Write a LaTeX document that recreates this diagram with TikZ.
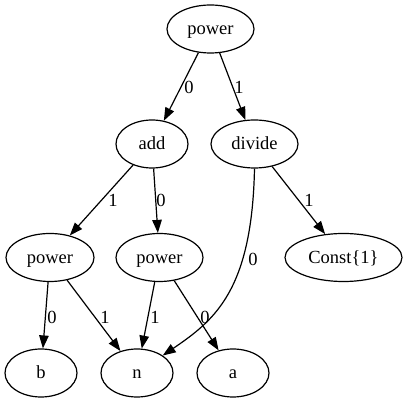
\documentclass[tikz,border=0pt]{standalone}
\usepackage{fontspec}
\setmainfont{Liberation Serif}
\usetikzlibrary{shapes.geometric,arrows.meta}
\begin{document}
\begin{tikzpicture}[x=1pt,y=-1pt,
  nd/.style={ellipse,draw,line width=1.2pt,inner sep=0pt,minimum height=48pt,text height=16pt,text depth=4pt,font=\fontsize{18.5}{20}\selectfont},
  lbl/.style={inner sep=0pt,font=\fontsize{18.5}{20}\selectfont},
  edge/.style={line width=1.2pt,-{Triangle[length=13pt,width=9.5pt]}}]
\useasboundingbox (0,0) rectangle (408,403);
\node[nd,minimum width=87pt] (p0) at (210.5,29) {power};
\node[nd,minimum width=72pt] (add) at (152,144) {add};
\node[nd,minimum width=87pt] (div) at (254.5,144) {divide};
\node[nd,minimum width=88pt] (p1) at (50,257.5) {power};
\node[nd,minimum width=87pt] (p2) at (159.5,257.5) {power};
\node[nd,minimum width=117pt] (c1) at (343.5,257.5) {Const\{1\}};
\node[nd,minimum width=72pt] (b) at (41,373) {b};
\node[nd,minimum width=72pt] (n) at (137,373) {n};
\node[nd,minimum width=72pt] (a) at (233,373) {a};
\draw[edge] (p0) -- (add) node[lbl] at (189,87) {0};
\draw[edge] (p0) -- (div) node[lbl] at (239,87) {1};
\draw[edge] (add) -- (p1) node[lbl] at (113,200) {1};
\draw[edge] (add) -- (p2) node[lbl] at (161,200) {0};
\draw[edge] (div) -- (c1) node[lbl] at (309,200) {1};
\draw[edge] (div.south) .. controls (252,290) and (215,320) .. (n) node[lbl] at (253,259) {0};
\draw[edge] (p1) -- (b) node[lbl] at (52,317) {0};
\draw[edge] (p1) -- (n) node[lbl] at (105,317) {1};
\draw[edge] (p2) -- (n) node[lbl] at (155,317) {1};
\draw[edge] (p2) -- (a) node[lbl] at (205,317) {0};
\end{tikzpicture}
\end{document}
